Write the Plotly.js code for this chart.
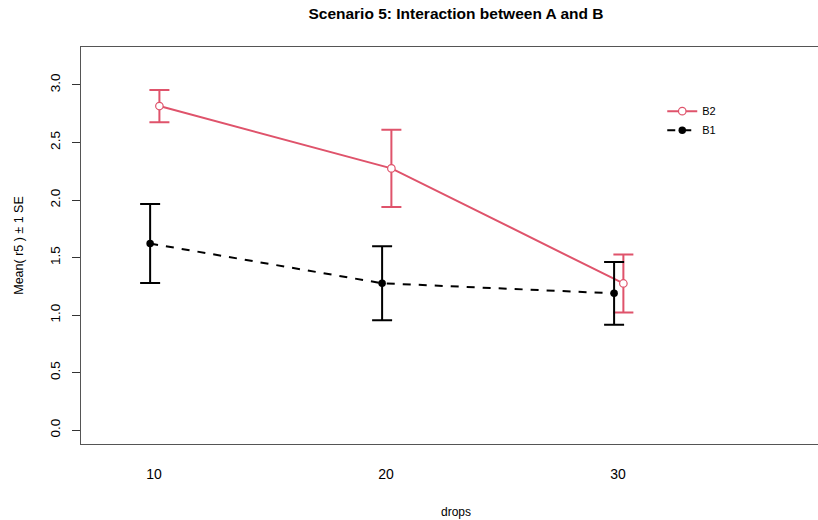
<!DOCTYPE html>
<html>
<head>
<meta charset="utf-8">
<script src="https://cdn.plot.ly/plotly-3.0.1.min.js"></script>
<style>
html,body{margin:0;padding:0;overflow:hidden;background:#fff;width:818px;height:520px;}
#chart{width:831px;height:520px;}
</style>
</head>
<body>
<div id="chart"></div>
<script>
// Data
var drops = [10, 20, 30];
var b2Mean = [2.817, 2.275, 1.275];
var b2SE   = [0.140, 0.335, 0.252];
var b1Mean = [1.622, 1.277, 1.189];
var b1SE   = [0.343, 0.322, 0.273];
var seriesNames = ['B2', 'B1'];
var yTicks = [0, 0.5, 1, 1.5, 2, 2.5, 3];

var dodgeB1 = -0.17, dodgeB2 = 0.23;
var red = '#DF536B';

var traces = [
  {
    name: seriesNames[0],
    x: drops.map(function(d){return d + dodgeB2;}),
    y: b2Mean,
    mode: 'lines+markers',
    type: 'scatter',
    line: {color: red, width: 2},
    marker: {symbol: 'circle', size: 7.5, color: '#fff', line: {color: red, width: 1.2}},
    error_y: {type: 'data', array: b2SE, visible: true, color: red, thickness: 2, width: 10}
  },
  {
    name: seriesNames[1],
    x: drops.map(function(d){return d + dodgeB1;}),
    y: b1Mean,
    mode: 'lines+markers',
    type: 'scatter',
    line: {color: '#000', width: 2, dash: '8px,8px'},
    marker: {symbol: 'circle', size: 7.5, color: '#000'},
    error_y: {type: 'data', array: b1SE, visible: true, color: '#000', thickness: 2, width: 10}
  }
];

var layout = {
  width: 831, height: 520,
  margin: {l: 81, r: 0, t: 47, b: 76},
  paper_bgcolor: '#fff', plot_bgcolor: '#fff',
  font: {family: 'Liberation Sans, Arial, sans-serif', color: '#000'},
  title: {text: '<b>Scenario 5: Interaction between A and B</b>', font: {size: 15.5, color: '#000'},
          x: 0.5, xref: 'paper', xanchor: 'center', y: 0.973, yanchor: 'middle'},
  showlegend: true,
  legend: {x: 0.775, y: 0.875, xanchor: 'left', yanchor: 'top', bgcolor: 'rgba(0,0,0,0)',
           font: {size: 11, color: '#000'}, itemwidth: 30, tracegroupgap: 0},
  xaxis: {
    range: [6.85, 39.18],
    tickvals: drops, ticktext: drops.map(String),
    ticks: '', showgrid: false, zeroline: false,
    showline: true, mirror: true, linecolor: '#555', linewidth: 1.3,
    tickfont: {size: 14, color: '#000'}, ticklabelstandoff: 17,
    title: {text: 'drops', font: {size: 12, color: '#000'}, standoff: 26}
  },
  yaxis: {
    range: [-0.12, 3.33],
    tickvals: yTicks, ticktext: yTicks.map(function(v){return v.toFixed(1);}),
    tickangle: -90,
    ticks: 'outside', ticklen: 8, tickwidth: 1, tickcolor: '#333',
    showgrid: false, zeroline: false,
    showline: true, mirror: true, linecolor: '#555', linewidth: 1.3,
    tickfont: {size: 13.5, color: '#000'}, ticklabelstandoff: 6,
    title: {text: 'Mean( r5 ) \u00b1 1 SE', font: {size: 12.5, color: '#000'}, standoff: 22}
  }
};

Plotly.newPlot('chart', traces, layout, {displayModeBar: false, staticPlot: true});
</script>
</body>
</html>
